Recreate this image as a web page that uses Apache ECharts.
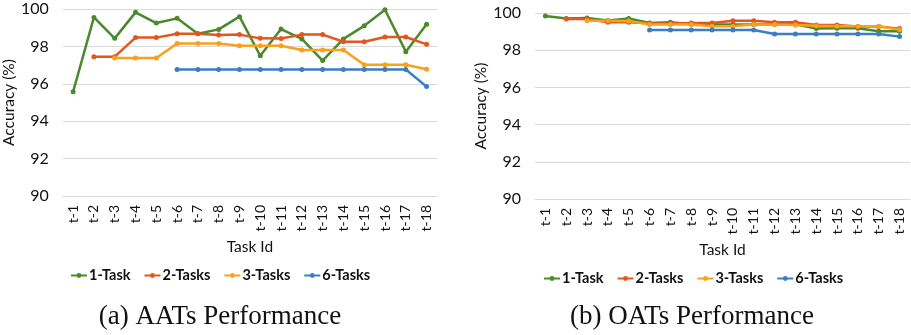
<!DOCTYPE html>
<html><head><meta charset="utf-8">
<script src="https://cdn.jsdelivr.net/npm/echarts@6/dist/echarts.min.js"></script>
<style>html,body{margin:0;padding:0;background:#fff}#c{width:911px;height:335px}</style>
</head><body><div id="c"></div>
<script>
const categories = ['t-1','t-2','t-3','t-4','t-5','t-6','t-7','t-8','t-9','t-10','t-11','t-12','t-13','t-14','t-15','t-16','t-17','t-18'];
const seriesNames = ['1-Task','2-Tasks','3-Tasks','6-Tasks'];
const yTicks = [90, 92, 94, 96, 98, 100];

// (a) AATs Performance
const aats1 = [95.58,99.55,98.43,99.82,99.25,99.5,98.68,98.91,99.59,97.5,98.93,98.4,97.24,98.4,99.1,99.96,97.72,99.18];
const aats2 = [null,97.45,97.45,98.47,98.47,98.68,98.68,98.61,98.63,98.43,98.42,98.63,98.63,98.25,98.25,98.5,98.5,98.11];
const aats3 = [null,null,97.38,97.38,97.38,98.16,98.16,98.16,98.04,98.04,98.04,97.81,97.81,97.81,97.02,97.02,97.02,96.78];
const aats6 = [null,null,null,null,null,96.76,96.76,96.76,96.76,96.76,96.76,96.76,96.76,96.76,96.76,96.76,96.76,95.85];

// (b) OATs Performance
const oats1 = [99.84,99.7,99.73,99.6,99.7,99.46,99.5,99.39,99.38,99.38,99.38,99.4,99.4,99.16,99.18,99.18,99.02,99.02];
const oats2 = [null,99.68,99.68,99.5,99.5,99.45,99.44,99.46,99.46,99.58,99.58,99.5,99.5,99.36,99.36,99.27,99.27,99.16];
const oats3 = [null,null,99.59,99.59,99.57,99.38,99.38,99.38,99.29,99.29,99.38,99.38,99.36,99.32,99.29,99.29,99.29,99.1];
const oats6 = [null,null,null,null,null,99.09,99.09,99.09,99.09,99.09,99.09,98.87,98.87,98.87,98.87,98.87,98.87,98.73];

const captions = ['(a) AATs Performance', '(b) OATs Performance'];
const xName = 'Task Id';
const yName = 'Accuracy (%)';

const colors = ['#4b8a2c', '#e4561f', '#f8a11d', '#3c7dc4'];
const FONT = 'Lato';
const TXT = '#111';

const grids = [
  {left: 62, top: 9, width: 375, height: 187},
  {left: 535, top: 13, width: 375, height: 186}
];

function xAxis(i){
  return {
    type: 'category', gridIndex: i, data: categories, boundaryGap: true,
    axisLine: {show: true, lineStyle: {color: '#d9d9d9', width: 1}},
    axisTick: {show: false},
    axisLabel: {rotate: 90, margin: 9, fontFamily: FONT, fontSize: 14, color: TXT, interval: 0},
    name: xName, nameLocation: 'middle', nameGap: 41,
    nameTextStyle: {fontFamily: FONT, fontSize: 15.5, color: TXT}
  };
}
function yAxis(i){
  return {
    type: 'value', gridIndex: i, min: yTicks[0], max: yTicks[yTicks.length-1], interval: 2,
    axisLine: {show: false}, axisTick: {show: false},
    splitLine: {show: true, lineStyle: {color: '#d9d9d9', width: 1}},
    axisLabel: {margin: 14, fontFamily: FONT, fontSize: 16, color: TXT},
    name: yName, nameLocation: 'middle', nameGap: 39, nameRotate: 90,
    nameTextStyle: {fontFamily: FONT, fontSize: 15.5, color: TXT}
  };
}
function mk(name, data, idx, color){
  return {
    name: name, type: 'line', xAxisIndex: idx, yAxisIndex: idx, data: data,
    symbol: 'circle', symbolSize: 5, showSymbol: true,
    lineStyle: {width: 2.5, color: color}, itemStyle: {color: color},
    animation: false
  };
}
const leftData = [aats1, aats2, aats3, aats6];
const rightData = [oats1, oats2, oats3, oats6];
const series = [];
seriesNames.forEach((n, k) => series.push(mk(n, leftData[k], 0, colors[k])));
seriesNames.forEach((n, k) => series.push(mk(n, rightData[k], 1, colors[k])));

function legend(left, top){
  return {
    data: seriesNames, left: left, top: top, orient: 'horizontal',
    itemWidth: 16, itemHeight: 6, itemGap: 13,
    textStyle: {fontFamily: FONT, fontSize: 14.5, fontWeight: 'bold', color: TXT, padding: [0,0,0,-3]}
  };
}

const chart = echarts.init(document.getElementById('c'), null, {renderer: 'canvas'});
chart.setOption({
  backgroundColor: '#fff',
  animation: false,
  color: colors,
  grid: grids,
  xAxis: [xAxis(0), xAxis(1)],
  yAxis: [yAxis(0), yAxis(1)],
  legend: [legend(65, 263), legend(538, 266)],
  series: series,
  graphic: [
    {type: 'text', x: 220, y: 317, style: {text: captions[0], font: '27px "Liberation Serif"', fill: '#111', align: 'center', verticalAlign: 'middle', textAlign: 'center', textVerticalAlign: 'middle'}},
    {type: 'text', x: 692, y: 317, style: {text: captions[1], font: '27px "Liberation Serif"', fill: '#111', align: 'center', verticalAlign: 'middle', textAlign: 'center', textVerticalAlign: 'middle'}}
  ]
});
</script></body></html>
